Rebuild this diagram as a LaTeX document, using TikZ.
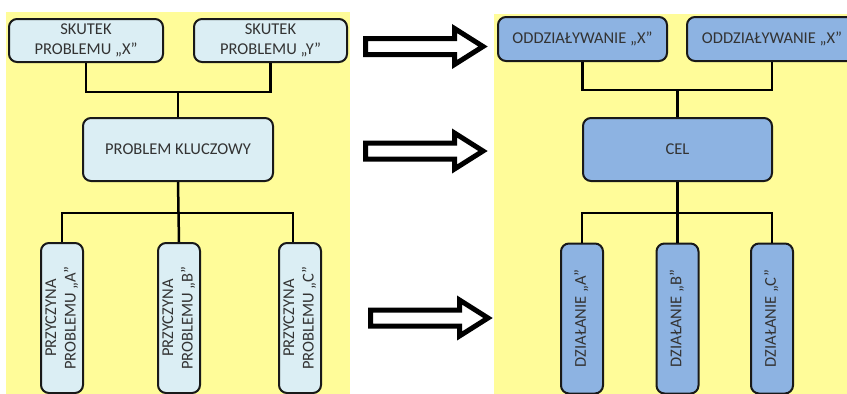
\documentclass[tikz,border=0pt]{standalone}
\usepackage{fontspec}
\usepackage{graphicx}
\setmainfont{Carlito}
\definecolor{ylw}{HTML}{FFFC99}
\definecolor{lbox}{HTML}{DBEEF4}
\definecolor{dbox}{HTML}{8DB3E2}
\definecolor{txt}{HTML}{333333}
\tikzset{
  box/.style={draw=black!90, line width=2pt, rounded corners=8pt, text=txt,
    font=\fontsize{16.5}{19.5}\selectfont, align=center, inner sep=0pt},
  lbx/.style={box, fill=lbox},
  dbx/.style={box, fill=dbox},
  vbx/.style={minimum width=42pt, minimum height=150pt},
  conn/.style={line width=2.5pt, black},
  barrow/.style={draw=black, line width=5pt, fill=white, line join=miter},
  pics/bigarrow/.style={code={
    \draw[barrow] (0,-8) -- (89,-8) -- (89,-18) -- (117.5,0) -- (89,18) -- (89,8) -- (0,8) -- cycle;}}
}
\newcommand{\vtext}[1]{\rotatebox{90}{\begin{tabular}{@{}c@{}}#1\end{tabular}}}
\begin{document}
\begin{tikzpicture}[x=1pt,y=-1pt]
\useasboundingbox (0,0) rectangle (847,394);
\clip (0,0) rectangle (847,394);
\fill[white] (0,0) rectangle (847,394);
\fill[ylw] (6,12) rectangle (350,394);
\fill[ylw] (494,14) rectangle (847,394);

% left panel
\node[lbx, minimum width=154pt, minimum height=43pt] (skx) at (86,40.5) {SKUTEK\\PROBLEMU „X”};
\node[lbx, minimum width=153pt, minimum height=43pt] (sky) at (270.5,40.5) {SKUTEK\\PROBLEMU „Y”};
\node[lbx, minimum width=190pt, minimum height=63pt] (pk) at (178,149.5) {PROBLEM KLUCZOWY};
\node[lbx, vbx] (pa) at (62,318) {\vtext{PRZYCZYNA\\PROBLEMU „A”}};
\node[lbx, vbx] (pb) at (179,318) {\vtext{PRZYCZYNA\\PROBLEMU „B”}};
\node[lbx, vbx] (pc) at (300,318) {\vtext{PRZYCZYNA\\PROBLEMU „C”}};
\coordinate (j1) at (178,92);
\coordinate (j2) at (178,213);
\draw[conn] (skx.south) |- (j1) -| (sky.south);
\draw[conn] (j1) -- (pk.north);
\draw[conn] (pk.south) -- (pb.north);
\draw[conn] (pa.north) |- (j2) -| ([xshift=-7pt]pc.north);

% right panel
\node[dbx, minimum width=169pt, minimum height=44pt] (ox1) at (582.5,39) {ODDZIAŁYWANIE „X”};
\node[dbx, minimum width=170pt, minimum height=44pt] (ox2) at (772,39) {ODDZIAŁYWANIE „X”};
\node[dbx, minimum width=189pt, minimum height=63pt] (cel) at (677.5,149.5) {CEL};
\node[dbx, vbx] (da) at (582,318.5) {\vtext{DZIAŁANIE „A”}};
\node[dbx, vbx] (db) at (677.5,318.5) {\vtext{DZIAŁANIE „B”}};
\node[dbx, vbx] (dc) at (772,318.5) {\vtext{DZIAŁANIE „C”}};
\coordinate (k1) at (677.5,90);
\coordinate (k2) at (677.5,213);
\draw[conn] (ox1.south) |- (k1) -| (ox2.south);
\draw[conn] (k1) -- (cel.north);
\draw[conn] (cel.south) -- (db.north);
\draw[conn] (da.north) |- (k2) -| (dc.north);

% arrows
\pic at (365.5,46.5) {bigarrow};
\pic at (365.5,151) {bigarrow};
\pic at (370.5,318) {bigarrow};
\end{tikzpicture}
\end{document}
